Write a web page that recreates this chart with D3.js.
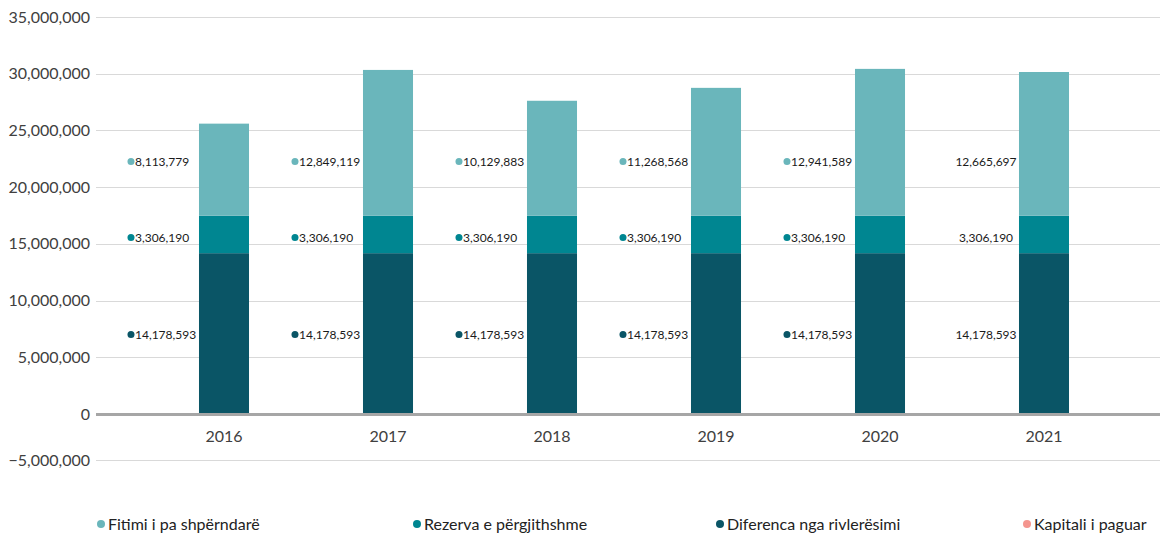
<!DOCTYPE html>
<html>
<head>
<meta charset="utf-8">
<script src="https://cdn.jsdelivr.net/npm/d3@7"></script>
<style>
  body { margin: 0; background: #fff; }
  svg { font-family: Lato, "Open Sans", sans-serif; }
</style>
</head>
<body>
<div id="chart"></div>
<script>
//Chart data
const years = ["2016", "2017", "2018", "2019", "2020", "2021"];
const fitimi = [8113779, 12849119, 10129883, 11268568, 12941589, 12665697];
const rezerva = [3306190, 3306190, 3306190, 3306190, 3306190, 3306190];
const diferenca = [14178593, 14178593, 14178593, 14178593, 14178593, 14178593];
const kapitali = [0, 0, 0, 0, 0, 0];
const seriesNames = ["Kapitali i paguar", "Diferenca nga rivlerësimi", "Rezerva e përgjithshme", "Fitimi i pa shpërndarë"];
const yTicks = [-5000000, 0, 5000000, 10000000, 15000000, 20000000, 25000000, 30000000, 35000000];

//Dimensions
const width = 1166;
const height = 534;
const colors = {
    "Fitimi i pa shpërndarë": "#6ab6bb",
    "Rezerva e përgjithshme": "#008691",
    "Diferenca nga rivlerësimi": "#0a5566",
    "Kapitali i paguar": "#f4958e"
};
//Where the data labels sit (value level per series)
const labelLevel = {
    "Diferenca nga rivlerësimi": 7000000,
    "Rezerva e përgjithshme": 15550000,
    "Fitimi i pa shpërndarë": 22250000
};

const table = years.map((y, i) => ({
    year: y,
    "Kapitali i paguar": kapitali[i],
    "Diferenca nga rivlerësimi": diferenca[i],
    "Rezerva e përgjithshme": rezerva[i],
    "Fitimi i pa shpërndarë": fitimi[i]
}));

const stack = d3.stack().keys(seriesNames)(table);

const svg = d3.select("#chart").append("svg").attr("width", width).attr("height", height);

const x = d3.scaleBand().domain(years).range([142, 1126]).paddingInner(0.695).paddingOuter(0.3475);
//the negative part of the axis is squeezed in the original
const y = d3.scaleLinear().domain([-5000000, 0, 35000000]).range([460, 414, 17]);

const fmt = d3.format(",");

//Gridlines
svg.append("g").selectAll("line").data(yTicks.filter(d => d !== 0)).enter().append("line")
    .attr("x1", 96).attr("x2", 1160)
    .attr("y1", d => Math.round(y(d)) + 0.5).attr("y2", d => Math.round(y(d)) + 0.5)
    .attr("stroke", "#d9d9d9").attr("stroke-width", 1);

//Y tick labels
svg.append("g").selectAll("text").data(yTicks).enter().append("text")
    .attr("x", 90).attr("y", d => y(d)).attr("dy", "0.35em")
    .attr("text-anchor", "end").attr("fill", "#404040").style("font-size", "16px")
    .text(d => fmt(d));

//Bars
svg.append("g").selectAll("g").data(stack).enter().append("g")
    .attr("fill", d => colors[d.key])
    .selectAll("rect").data(d => d).enter().append("rect")
    .attr("x", d => x(d.data.year))
    .attr("width", x.bandwidth())
    .attr("y", d => y(d[1]))
    .attr("height", d => y(d[0]) - y(d[1]));

//Zero baseline
svg.append("line").attr("x1", 96).attr("x2", 1160)
    .attr("y1", y(0) + 0.5).attr("y2", y(0) + 0.5)
    .attr("stroke", "#a6a6a6").attr("stroke-width", 3);

//X labels
svg.append("g").selectAll("text").data(years).enter().append("text")
    .attr("x", d => x(d) + x.bandwidth() / 2).attr("y", 442)
    .attr("text-anchor", "middle").attr("fill", "#404040").style("font-size", "16px")
    .text(d => d);

//Data labels
const labelSeries = stack.filter(s => labelLevel[s.key] !== undefined);
labelSeries.forEach(s => {
    const g = svg.append("g");
    s.forEach((d, i) => {
        const bx = x(d.data.year);
        const ly = y(labelLevel[s.key]);
        const val = d[1] - d[0];
        if (i < years.length - 1) {
            g.append("circle").attr("cx", bx - 68).attr("cy", ly).attr("r", 3.5).attr("fill", colors[s.key]);
            g.append("text").attr("x", bx - 64).attr("y", ly).attr("dy", "0.35em")
                .attr("fill", "#1a1a1a").style("font-size", "12px").text(fmt(val));
        } else {
            g.append("text").attr("x", bx - 33).attr("y", ly).attr("dy", "0.35em")
                .attr("text-anchor", "middle")
                .attr("fill", "#1a1a1a").style("font-size", "12px").text(fmt(val));
        }
    });
});

//Legend
const legendItems = ["Fitimi i pa shpërndarë", "Rezerva e përgjithshme", "Diferenca nga rivlerësimi", "Kapitali i paguar"];
const legendX = [101, 417, 720, 1027];
const legend = svg.append("g");
legendItems.forEach((k, i) => {
    legend.append("circle").attr("cx", legendX[i]).attr("cy", 524).attr("r", 4).attr("fill", colors[k]);
    legend.append("text").attr("x", legendX[i] + 7).attr("y", 524).attr("dy", "0.35em")
        .attr("fill", "#222").style("font-size", "16px").text(k);
});
</script>
</body>
</html>
